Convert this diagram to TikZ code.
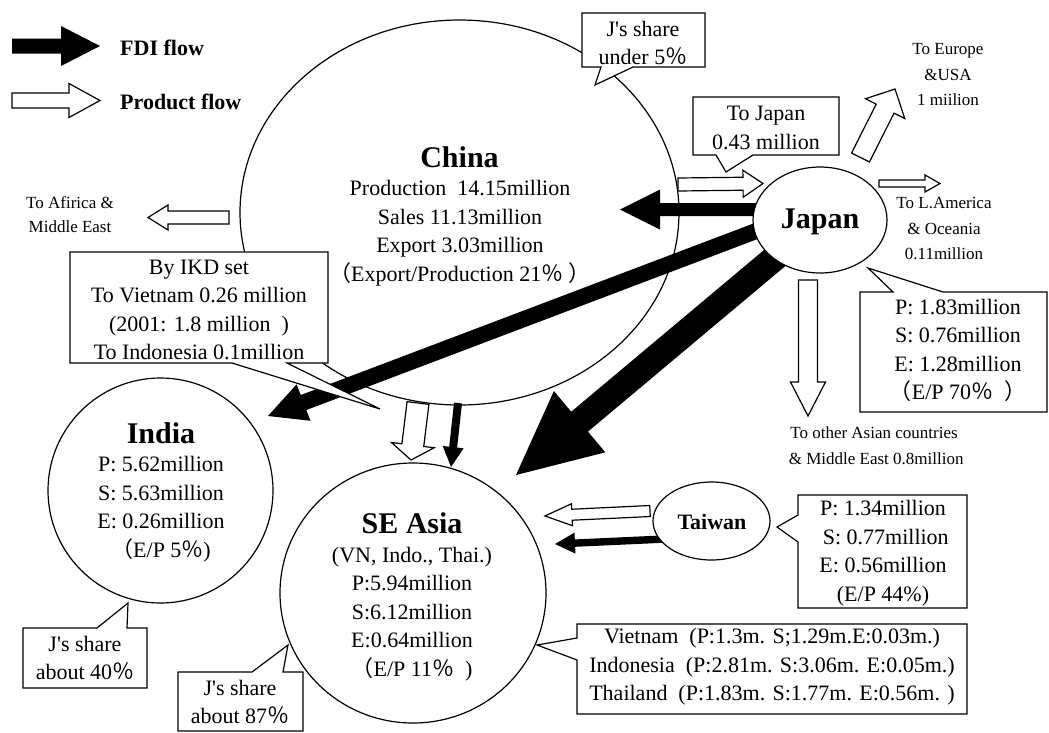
\documentclass[tikz,border=0pt]{standalone}
\usepackage{fontspec}
\setmainfont{Liberation Serif}
\newfontfamily\cjkf{Noto Sans CJK JP}
\usetikzlibrary{calc,shapes.geometric}
\newcommand{\fwpct}{{\cjkf ％}}
\newcommand{\fwlp}{{\cjkf （}}
\newcommand{\fwrp}{{\cjkf ）}}
% #1 style, #2 start, #3 tip, #4 half shaft, #5 half head, #6 head length
\newcommand{\blockarrow}[6]{%
  \coordinate (bah) at ($(#3)!#6pt!(#2)$);
  \path[#1] ($(#2)!#4pt!90:(#3)$) -- ($(bah)!#4pt!90:(#3)$) -- ($(bah)!#5pt!90:(#3)$) -- (#3)
    -- ($(bah)!#5pt!-90:(#3)$) -- ($(bah)!#4pt!-90:(#3)$) -- ($(#2)!#4pt!-90:(#3)$) -- cycle;
}
\tikzset{
  fdi/.style={fill=black},
  prod/.style={draw=black, fill=white, line width=1.2pt, line join=miter},
  region/.style={ellipse, draw=black, fill=white, line width=1.2pt, inner sep=0pt},
  callbox/.style={draw=black, fill=white, line width=1.2pt, line join=miter},
  big/.style={font=\fontsize{22}{28.5}\selectfont, align=center, inner sep=0pt},
  small/.style={font=\fontsize{17}{25.5}\selectfont, align=center, inner sep=0pt},
  ttl/.style={font=\bfseries\fontsize{30}{34}\selectfont, inner sep=0pt},
  lgd/.style={font=\bfseries\fontsize{22}{26}\selectfont, inner sep=0pt, anchor=west},
}
\begin{document}
\begin{tikzpicture}[x=1pt, y=-1pt]
\useasboundingbox (0,0) rectangle (1049,732);
\fill[white] (0,0) rectangle (1049,732);

% China region
\node[region, minimum width=439pt, minimum height=385pt] (china) at (459.5,212.5) {};
\node[region, minimum width=225pt, minimum height=225pt] (india) at (160.5,490.5) {};
\node[region, minimum width=266pt, minimum height=260pt] (seasia) at (413,593) {};

% invisible anchors for Japan/Taiwan positions
\coordinate (jc) at (820,220);
\coordinate (tc) at (711.5,521);

% legend arrows
\coordinate (lfA) at (12,46); \coordinate (lfB) at (100,46);
\coordinate (lpA) at (12,100.5); \coordinate (lpB) at (100,100.5);
\blockarrow{fdi}{lfA}{lfB}{7.5}{20}{39}
\blockarrow{prod}{lpA}{lpB}{7.5}{17}{31}

% product flows
\coordinate (afA) at (229,217.5); \coordinate (afB) at (148,217.5);
\blockarrow{prod}{afA}{afB}{6.5}{12.5}{20}
\coordinate (cjA) at (678,184.5); \coordinate (cjB) at (763,183.5);
\blockarrow{prod}{cjA}{cjB}{6.5}{13.5}{20}
\coordinate (jeA) at (860.5,157.5); \coordinate (jeB) at (895,89);
\blockarrow{prod}{jeA}{jeB}{10}{22}{22}
\coordinate (jlA) at (879,183.5); \coordinate (jlB) at (940,183.5);
\blockarrow{prod}{jlA}{jlB}{3.5}{8.5}{15}
\coordinate (joA) at (808,280); \coordinate (joB) at (808,416);
\blockarrow{prod}{joA}{joB}{9.5}{17.5}{34}
\coordinate (csA) at (418,403); \coordinate (csB) at (411,460);
\blockarrow{prod}{csA}{csB}{11}{21.5}{15}
\coordinate (tpA) at (650,511); \coordinate (tpB) at (545,516);
\blockarrow{prod}{tpA}{tpB}{5.5}{11}{27}

% FDI flows
\coordinate (jcA) at ($(jc)+(-30,-10.5)$); \coordinate (jcB) at (620,209.5);
\blockarrow{fdi}{jcA}{jcB}{6.5}{20}{40}
\coordinate (jiA) at ($(jc)+(-20,-5.6)$); \coordinate (jiB) at (268,416);
\blockarrow{fdi}{jiA}{jiB}{8}{19.5}{38}
\coordinate (jsB) at (516,475);
\blockarrow{fdi}{jc}{jsB}{13}{40}{83}
\coordinate (cfA) at (458,403); \coordinate (cfB) at (451,467);
\blockarrow{fdi}{cfA}{cfB}{4}{10.5}{20}
\coordinate (tfA) at ($(tc)+(-46.5,18)$); \coordinate (tfB) at (555,544);
\blockarrow{fdi}{tfA}{tfB}{3.7}{10.5}{20}

% Japan and Taiwan
\node[region, minimum width=134pt, minimum height=106pt] (japan) at (jc) {};
\node[region, minimum width=117pt, minimum height=78pt] (taiwan) at (tc) {};

% callouts
\path[callbox] (582,13) -- (705,13) -- (705,67) -- (633,67) -- (595,85) -- (601,67) -- (582,67) -- cycle;
\path[callbox] (693,97) -- (839,97) -- (839,155) -- (753,155) -- (726,172) -- (716,155) -- (693,155) -- cycle;
\path[callbox] (70,252) -- (328,252) -- (328,363) -- (287,363) -- (380,409) -- (232,363) -- (70,363) -- cycle;
\path[callbox] (860,292) -- (893,292) -- (868,268) -- (943,292) -- (1047,292) -- (1047,412) -- (860,412) -- cycle;
\path[callbox] (23,628) -- (97,628) -- (128,603) -- (127,628) -- (147,628) -- (147,688) -- (23,688) -- cycle;
\path[callbox] (178,672) -- (252,672) -- (288,645) -- (283,672) -- (303,672) -- (303,731) -- (178,731) -- cycle;
\path[callbox] (798,495) -- (967,495) -- (967,608) -- (798,608) -- (798,542) -- (777,527) -- (798,515) -- cycle;
\path[callbox] (577,624) -- (967,624) -- (967,714) -- (577,714) -- (577,660) -- (537,645) -- (577,638) -- cycle;

% texts
\node[lgd] (lgfdi) at (120,48) {FDI flow};
\node[lgd] (lgprod) at (120,102) {Product flow};
\node[big] (tj5) at (643,43) {J\textquotesingle s share\\under 5\fwpct};
\node[big] (ttojp) at (766,128) {To Japan\\0.43 million};
\node[small] (teu) at (948,75) {To Europe\\\&USA\\1 miilion};
\node[ttl] (tchina) at (459.5,157) {China};
\node[big] (tchinab) at (460,233) {Production\ \ 14.15million\\Sales 11.13million\\Export 3.03million\\\fwlp Export/Production 21\fwpct\ \fwrp};
\node[small, font=\fontsize{17}{24}\selectfont] (tafr) at (70,215) {To Afirica \&\\Middle East};
\node[big] (tikd) at (199,310) {By IKD set\\To Vietnam 0.26 million\\(2001: 1.8 million\ \ )\\To Indonesia 0.1million};
\node[ttl] (tjapan) at (820,222) {Japan};
\node[small] (tlam) at (944,228.5) {To L.America\\\& Oceania\\0.11million};
\node[big] (tjpse) at (958,350.5) {P: 1.83million\\S: 0.76million\\E: 1.28million\\\fwlp E/P 70\fwpct\ \ \fwrp};
\node[small, font=\fontsize{17}{26}\selectfont] (toas) at (874,446) {To other Asian countries\\\ \& Middle East 0.8million};
\node[ttl] (tindia) at (161,433) {India};
\node[big] (tindiab) at (161,509) {P: 5.62million\\S: 5.63million\\E: 0.26million\\\fwlp E/P 5\fwpct)};
\node[big] (tj40) at (85,658) {J\textquotesingle s share\\about 40\fwpct};
\node[ttl] (tseasia) at (412,523) {SE Asia};
\node[big] (tseasiab) at (412,614) {(VN, Indo., Thai.)\\P:5.94million\\S:6.12million\\E:0.64million\\\fwlp E/P 11\fwpct\ \ )};
\node[big] (tj87) at (240,702) {J\textquotesingle s share\\about 87\fwpct};
\node[ttl, font=\bfseries\fontsize{22}{26}\selectfont] (ttaiwan) at (712,522) {Taiwan};
\node[big] (ttwpse) at (883,553) {P: 1.34million\\\ S: 0.77million\\E: 0.56million\\(E/P 44\%)};
\node[big] (tsepse) at (772,667) {Vietnam\ \ (P:1.3m. S;1.29m.E:0.03m.)\\Indonesia\ \ (P:2.81m. S:3.06m. E:0.05m.)\\Thailand\ \ (P:1.83m. S:1.77m. E:0.56m. )};
\end{tikzpicture}
\end{document}
